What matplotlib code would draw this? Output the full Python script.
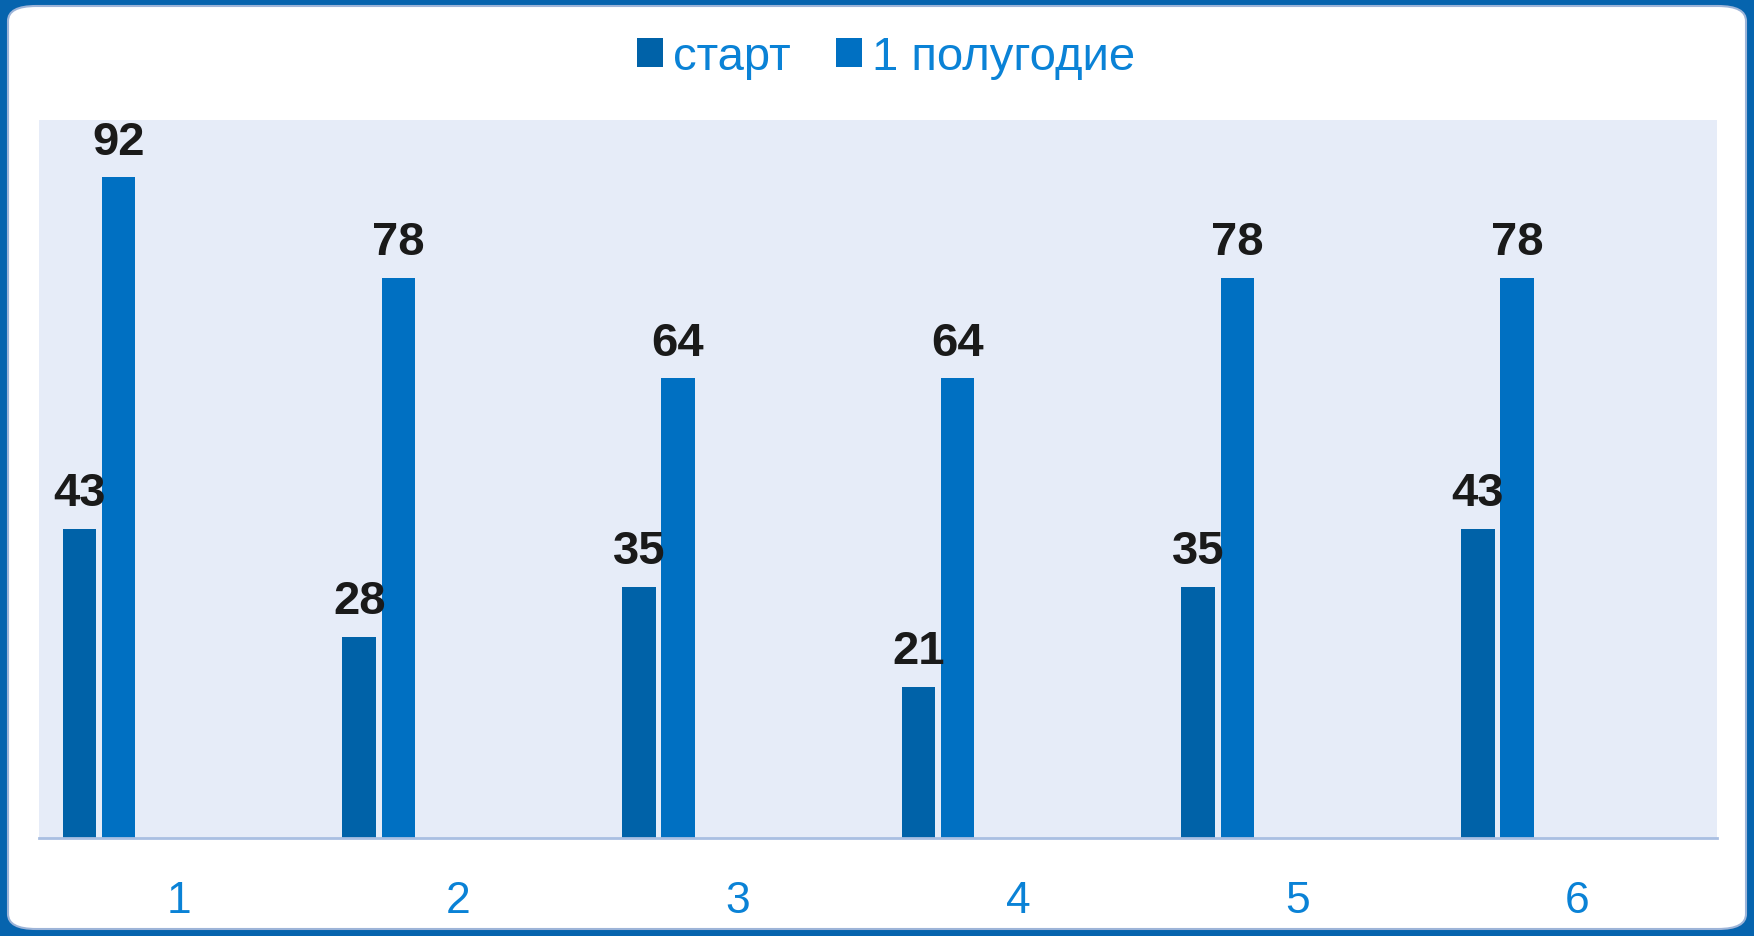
import matplotlib
matplotlib.use("Agg")
import matplotlib.pyplot as plt
from matplotlib.patches import FancyBboxPatch, Patch
import numpy as np

plt.rcParams['font.family'] = ['Liberation Sans', 'DejaVu Sans']

categories = ["1", "2", "3", "4", "5", "6"]
series_names = ["старт", "1 полугодие"]
start_vals = [43, 28, 35, 21, 35, 43]
half_vals = [92, 78, 64, 64, 78, 78]

c_dark = "#0062A8"
c_blue = "#0070C2"
text_blue = "#0A82D6"

W, H = 1754, 937
fig = plt.figure(figsize=(W / 100, H / 100), dpi=100)
fig.patch.set_facecolor("#0664AE")

panel = FancyBboxPatch((8 / W, 7 / H), (1746 - 8) / W, (930 - 7) / H,
                       boxstyle="round,pad=0,rounding_size=0.016",
                       transform=fig.transFigure, facecolor="white",
                       edgecolor="#9DB4D8", linewidth=1.5, zorder=-5)
fig.patches.append(panel)

ax = fig.add_axes([39 / W, 98 / H, 1678 / W, 718 / H])
ax.set_zorder(1)
ax.set_facecolor("#E6ECF8")

x = np.arange(1, len(categories) + 1)
bw = 0.12
b1 = ax.bar(x - 0.355, start_vals, width=bw, color=c_dark, zorder=2)
b2 = ax.bar(x - 0.215, half_vals, width=bw, color=c_blue, zorder=2)

for bars, vals in ((b1, start_vals), (b2, half_vals)):
    for rect, v in zip(bars, vals):
        ax.annotate(str(v), (rect.get_x() + rect.get_width() / 2, v),
                    xytext=(0, 10), textcoords="offset points",
                    ha="center", va="bottom", fontsize=34,
                    fontweight="bold", color="#1A1A1A", zorder=3,
                    annotation_clip=False)

ax.set_xlim(0.5, 6.5)
ax.set_ylim(0, 100)
ax.set_xticks(x)
ax.set_xticklabels(categories)
ax.set_yticks([])
ax.tick_params(axis="x", length=0, pad=30, labelsize=32, labelcolor=text_blue)
for s in ("top", "left", "right"):
    ax.spines[s].set_visible(False)
ax.spines["bottom"].set_color("#A9BFE2")
ax.spines["bottom"].set_linewidth(2)

handles = [Patch(facecolor=c_dark), Patch(facecolor=c_blue)]
leg = fig.legend(handles, series_names, loc="center",
                 bbox_to_anchor=(886 / W, 1 - 58 / H), ncol=2, frameon=False,
                 fontsize=34, handlelength=0.55, handleheight=0.55,
                 handletextpad=0.22, columnspacing=0.95)
leg.set_zorder(3)
for t in leg.get_texts():
    t.set_color(text_blue)

fig.savefig("out.png", dpi=100, facecolor=fig.get_facecolor())
